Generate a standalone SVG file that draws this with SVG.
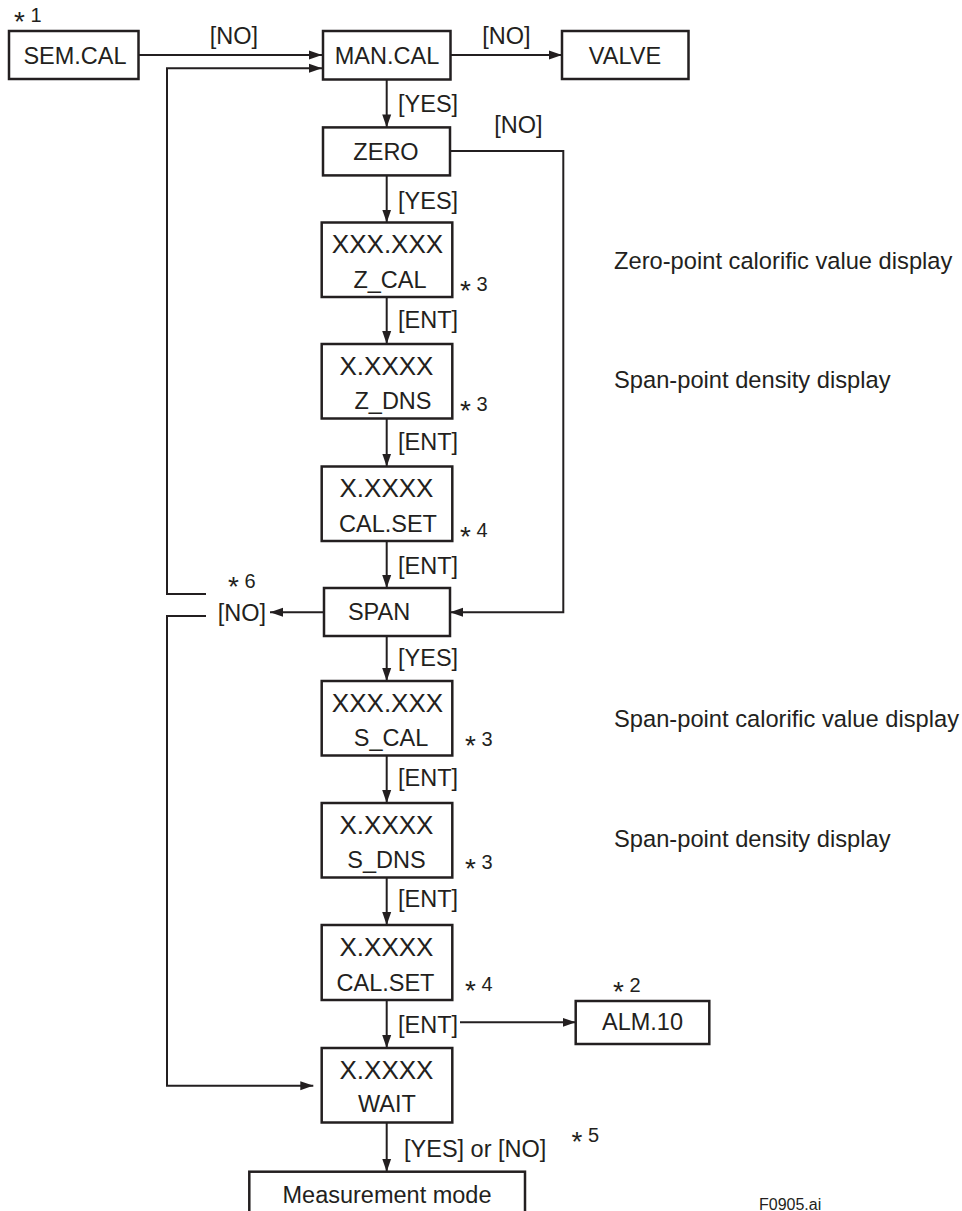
<svg xmlns="http://www.w3.org/2000/svg" width="962" height="1211" viewBox="0 0 962 1211">
<style>
.box{fill:#fff;stroke:#231f20;stroke-width:2.5}
.ln{fill:none;stroke:#231f20;stroke-width:2}
.ar{marker-end:url(#ah)}
text{font-family:"Liberation Sans",Arial,sans-serif;font-size:23.5px;fill:#231f20}
.c{text-anchor:middle}
.big{font-size:26px}
.fn{font-size:20px}
.st{font-size:28px}
.note{font-size:23.7px}
.small{font-size:16px}
</style>
<defs>
<marker id="ah" markerUnits="userSpaceOnUse" markerWidth="13" markerHeight="10" refX="13" refY="5" orient="auto">
<path d="M0,0.5 L13,5 L0,9.5 z" fill="#231f20"/>
</marker>
</defs>
<rect width="962" height="1211" fill="#fff"/>
<g id="connectors">
<path class="ln ar" d="M139,55 H322"/>
<path class="ln ar" d="M451,55 H562"/>
<path class="ln ar" d="M386.7,79.5 V127.4"/>
<path class="ln ar" d="M386.7,175.3 V222.5"/>
<path class="ln ar" d="M386.7,297 V344"/>
<path class="ln ar" d="M386.7,418.5 V466.5"/>
<path class="ln ar" d="M386.7,541 V588"/>
<path class="ln ar" d="M450,151 H563.3 V612.3 H450"/>
<path class="ln ar" d="M324,612.3 H270"/>
<path class="ln ar" d="M206,594 H167 V68.3 H322"/>
<path class="ln ar" d="M206,616 H167 V1085.7 H313.3"/>
<path class="ln ar" d="M386.7,636 V681"/>
<path class="ln ar" d="M386.7,755.5 V803"/>
<path class="ln ar" d="M386.7,877.5 V925"/>
<path class="ln ar" d="M386.7,1000 V1048"/>
<path class="ln ar" d="M460,1022.3 H575.7"/>
<path class="ln ar" d="M386.7,1122.5 V1171.7"/>
</g>
<g id="labels">
<text x="234" y="44" class="c">[NO]</text>
<text x="506.5" y="44" class="c">[NO]</text>
<text x="398" y="112">[YES]</text>
<text x="518.5" y="133" class="c">[NO]</text>
<text x="398" y="209">[YES]</text>
<text x="398" y="328">[ENT]</text>
<text x="398" y="450">[ENT]</text>
<text x="398" y="574">[ENT]</text>
<text x="242" y="621" class="c">[NO]</text>
<text x="398" y="666">[YES]</text>
<text x="398" y="786">[ENT]</text>
<text x="398" y="907">[ENT]</text>
<text x="398" y="1033">[ENT]</text>
<text x="404" y="1157">[YES] or [NO]</text>
</g>
<g id="footnotes">
<text x="14" y="22" class="fn"><tspan class="st" dy="9">*</tspan><tspan dy="-9"> 1</tspan></text>
<text x="460" y="291" class="fn"><tspan class="st" dy="9">*</tspan><tspan dy="-9"> 3</tspan></text>
<text x="460" y="411" class="fn"><tspan class="st" dy="9">*</tspan><tspan dy="-9"> 3</tspan></text>
<text x="460" y="537" class="fn"><tspan class="st" dy="9">*</tspan><tspan dy="-9"> 4</tspan></text>
<text x="228" y="588" class="fn"><tspan class="st" dy="8">*</tspan><tspan dy="-8"> 6</tspan></text>
<text x="465" y="745.5" class="fn"><tspan class="st" dy="9">*</tspan><tspan dy="-9"> 3</tspan></text>
<text x="465" y="869" class="fn"><tspan class="st" dy="9">*</tspan><tspan dy="-9"> 3</tspan></text>
<text x="465" y="991" class="fn"><tspan class="st" dy="9">*</tspan><tspan dy="-9"> 4</tspan></text>
<text x="613" y="992" class="fn"><tspan class="st" dy="9">*</tspan><tspan dy="-9"> 2</tspan></text>
<text x="571.5" y="1141.5" class="fn"><tspan class="st" dy="9">*</tspan><tspan dy="-9"> 5</tspan></text>
</g>
<g id="notes">
<text x="614" y="268.5" class="note">Zero-point calorific value display</text>
<text x="614" y="388" class="note">Span-point density display</text>
<text x="614" y="727" class="note">Span-point calorific value display</text>
<text x="614" y="846.5" class="note">Span-point density display</text>
<text x="759" y="1210" class="small">F0905.ai</text>
</g>
<g id="sem-cal"><rect class="box" x="9" y="31" width="129.5" height="48"/><text x="75" y="63.5" class="c">SEM.CAL</text></g>
<g id="man-cal"><rect class="box" x="323" y="31" width="127.5" height="48.5"/><text x="387" y="63.5" class="c">MAN.CAL</text></g>
<g id="valve"><rect class="box" x="562" y="31" width="126.5" height="48"/><text x="625" y="63.5" class="c">VALVE</text></g>
<g id="zero"><rect class="box" x="323" y="127.4" width="127" height="48"/><text x="386" y="159.5" class="c">ZERO</text></g>
<g id="z-cal"><rect class="box" x="321.7" y="222.5" width="130.6" height="74.5"/><text x="387.5" y="253" class="c big">XXX.XXX</text><text x="390" y="287.5" class="c">Z_CAL</text></g>
<g id="z-dns"><rect class="box" x="321.7" y="344" width="130.6" height="74.5"/><text x="386.5" y="374.5" class="c big">X.XXXX</text><text x="393" y="409" class="c">Z_DNS</text></g>
<g id="cal-set-1"><rect class="box" x="321.7" y="466.5" width="130.6" height="74.5"/><text x="386.5" y="497" class="c big">X.XXXX</text><text x="388" y="531.5" class="c">CAL.SET</text></g>
<g id="span"><rect class="box" x="324" y="588" width="126" height="48"/><text x="379" y="620" class="c">SPAN</text></g>
<g id="s-cal"><rect class="box" x="321.7" y="681" width="130.6" height="74.5"/><text x="387.5" y="711.5" class="c big">XXX.XXX</text><text x="391" y="746" class="c">S_CAL</text></g>
<g id="s-dns"><rect class="box" x="321.7" y="803" width="130.6" height="74.5"/><text x="386.5" y="833.5" class="c big">X.XXXX</text><text x="386.5" y="868" class="c">S_DNS</text></g>
<g id="cal-set-2"><rect class="box" x="321.7" y="925" width="130.6" height="75"/><text x="386.5" y="955.5" class="c big">X.XXXX</text><text x="385.5" y="990.5" class="c">CAL.SET</text></g>
<g id="wait"><rect class="box" x="321.7" y="1048" width="130.6" height="74.5"/><text x="386.5" y="1078.5" class="c big">X.XXXX</text><text x="387" y="1112" class="c">WAIT</text></g>
<g id="alm-10"><rect class="box" x="575.7" y="1001" width="133.6" height="43"/><text x="642.5" y="1030" class="c">ALM.10</text></g>
<g id="measurement-mode"><rect class="box" x="249.3" y="1171.7" width="275.7" height="60"/><text x="387" y="1203" class="c">Measurement mode</text></g>
</svg>
